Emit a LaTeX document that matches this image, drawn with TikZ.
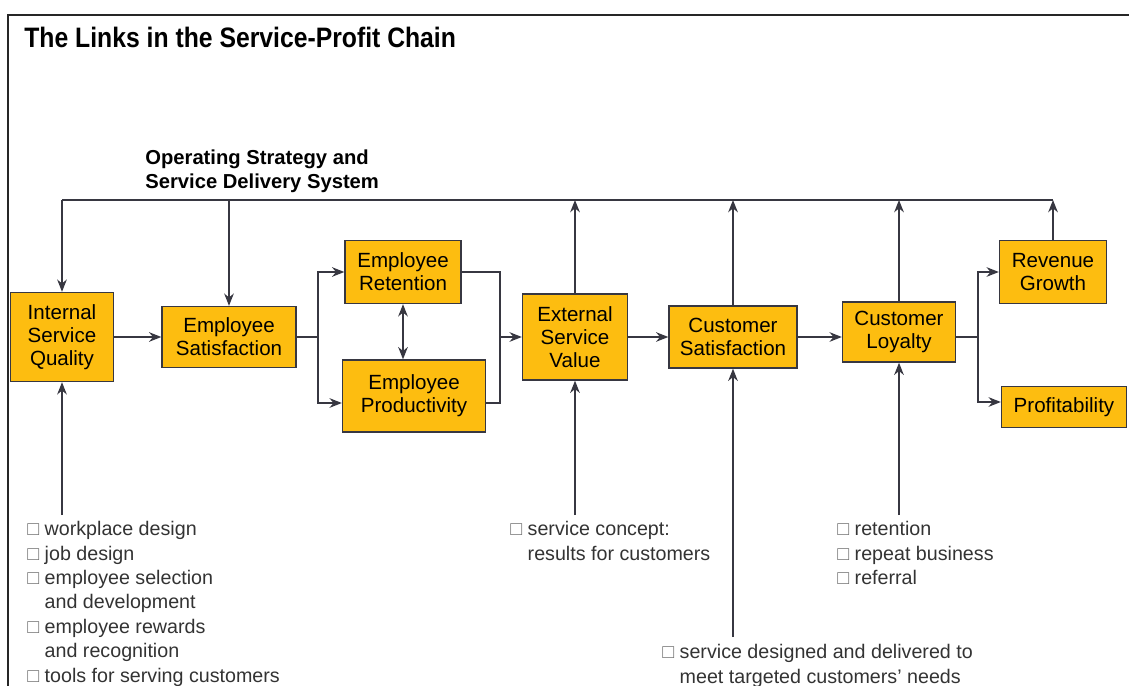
\documentclass[tikz,border=0pt]{standalone}
\usepackage{fontspec}
\setmainfont{Liberation Sans}
\usetikzlibrary{arrows.meta}
\definecolor{chainfill}{RGB}{253,189,16}
\definecolor{chainline}{RGB}{55,55,65}
\tikzstyle{stage} = [rectangle, draw=chainline, line width=0.8pt, fill=chainfill, align=center, inner sep=0pt, font=\fontsize{11.7}{13}\selectfont]
\tikzstyle{wire} = [draw=chainline, line width=0.8pt]
\tikzstyle{link} = [wire, -{Stealth[length=7pt,width=5.5pt]}]
\tikzstyle{twoway} = [wire, {Stealth[length=7pt,width=5.5pt]}-{Stealth[length=7pt,width=5.5pt]}]
\tikzstyle{note} = [anchor=north west, align=left, inner sep=0pt, text=black!80, font=\fontsize{11.2}{13.9}\selectfont]
\newcommand{\bx}{\textcolor{black!55}{□}\ }
\newcommand{\ind}{\phantom{□}\ }

\begin{document}
\begin{tikzpicture}[x=0.02cm, y=-0.02cm]
\useasboundingbox (0,0) rectangle (1129,686);
\draw[line width=1.4pt, black!85] (8,686) -- (8,15) -- (1129,15);
% headings
\node[anchor=base west, inner sep=0pt, font=\bfseries\fontsize{16}{16}\selectfont] (title) at (24,48) {\scalebox{0.88}[1]{The Links in the Service-Profit Chain}};
\node[anchor=north west, align=left, inner sep=0pt, font=\bfseries\fontsize{11.5}{13.6}\selectfont] (ops) at (145,150) {Operating Strategy and\\Service Delivery System};
% the links
\node[stage, minimum width=2.06cm, minimum height=1.78cm] (isq) at (62,337) {Internal\\Service\\Quality};
\node[stage, minimum width=2.68cm, minimum height=1.22cm] (es) at (229,337) {Employee\\Satisfaction};
\node[stage, minimum width=2.32cm, minimum height=1.26cm] (er) at (403,272) {Employee\\Retention};
\node[stage, minimum width=2.86cm, minimum height=1.44cm] (ep) at (414,396) {Employee\\Productivity};
\node[stage, minimum width=2.10cm, minimum height=1.72cm] (esv) at (575,337) {External\\Service\\Value};
\node[stage, minimum width=2.56cm, minimum height=1.24cm] (cs) at (733,337) {Customer\\Satisfaction};
\node[stage, minimum width=2.26cm, minimum height=1.20cm] (cl) at (899,332) {Customer\\Loyalty};
\node[stage, minimum width=2.14cm, minimum height=1.26cm] (rg) at (1053,272) {Revenue\\Growth};
\node[stage, minimum width=2.50cm, minimum height=0.82cm] (pr) at (1064,407) {Profitability};
\coordinate (fb) at (62,200);
\coordinate (sp1) at (318,337);
\coordinate (mg1) at (500,337);
\coordinate (sp2) at (978,337);
\coordinate (b1) at (62,515);
\coordinate (b3) at (733,637);
% feedback loop
\draw[wire] (fb) -- (rg.north |- fb);
\draw[link] (fb) -- (isq.north);
\draw[link] (es.north |- fb) -- (es.north);
\foreach \n in {esv,cs,cl,rg}
  \draw[link] (\n.north) -- (\n.north |- fb);
% chain
\draw[link] (isq.east) -- (es.west |- isq.east);
\draw[wire] (es.east) -- (sp1);
\draw[link] (sp1) |- (er.west);
\draw[link] (sp1) |- ([yshift=-0.14cm]ep.west);
\draw[twoway] (er.south) -- (er.south |- ep.north);
\draw[wire] (er.east) -| (mg1);
\draw[wire] ([yshift=-0.14cm]ep.east) -| (mg1);
\draw[link] (mg1) -- (esv.west |- mg1);
\draw[link] (esv.east |- mg1) -- (cs.west |- mg1);
\draw[link] (cs.east |- mg1) -- (cl.west |- mg1);
\draw[wire] (cl.east |- mg1) -- (sp2);
\draw[link] (sp2) |- (rg.west);
\draw[link] (sp2) |- ([yshift=0.1cm]pr.west);
% drivers
\draw[link] (b1) -- (isq.south);
\draw[link] (esv.south |- b1) -- (esv.south);
\draw[link] (b3) -- (cs.south);
\draw[link] (cl.south |- b1) -- (cl.south);
\node[note] (isqnote) at (27,521) {\bx workplace design\\\bx job design\\\bx employee selection\\\ind and development\\\bx employee rewards\\\ind and recognition\\\bx tools for serving customers};
\node[note] (esvnote) at (510,521) {\bx service concept:\\\ind results for customers};
\node[note] (clnote) at (837,521) {\bx retention\\\bx repeat business\\\bx referral};
\node[note] (csnote) at (662,644) {\bx service designed and delivered to\\\ind meet targeted customers' needs};
\end{tikzpicture}
\end{document}
